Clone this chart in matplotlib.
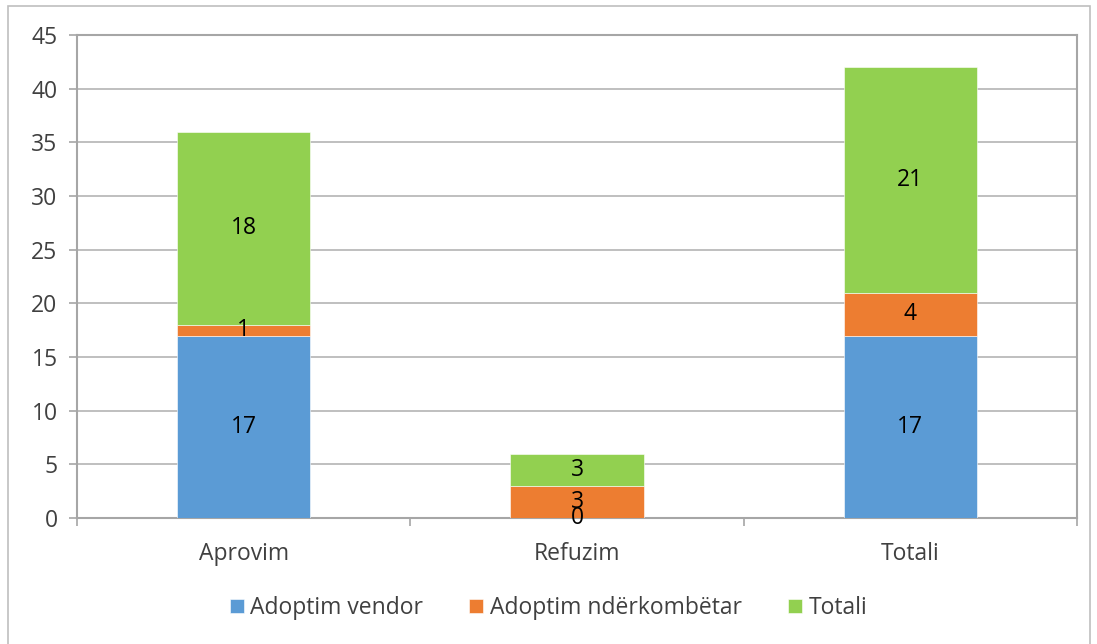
import matplotlib
matplotlib.use("Agg")
import matplotlib.pyplot as plt
from matplotlib.patches import Rectangle
import numpy as np

categories = ["Aprovim", "Refuzim", "Totali"]
vendor = [17, 0, 17]
nderkombetar = [1, 3, 4]
totali = [18, 3, 21]
series_names = ["Adoptim vendor", "Adoptim ndërkombëtar", "Totali"]
colors = ["#5B9BD5", "#ED7D31", "#92D050"]
y_ticks = [0, 5, 10, 15, 20, 25, 30, 35, 40, 45]

plt.rcParams["font.family"] = ["Open Sans", "DejaVu Sans"]
fs = 16.5

fig = plt.figure(figsize=(10.97, 6.44), dpi=100)
ax = fig.add_axes([77 / 1097, 126 / 644, 1000 / 1097, 483 / 644])

x = np.arange(len(categories))
bottom = np.zeros(len(categories))
for vals, name, col in zip([vendor, nderkombetar, totali], series_names, colors):
    vals = np.array(vals, dtype=float)
    ax.bar(x, vals, width=0.4, bottom=bottom, color=col, label=name,
           edgecolor="white", linewidth=0.4, zorder=3)
    for xi, b, v in zip(x, bottom, vals):
        ax.text(xi, b + v / 2, f"{int(v)}", ha="center", va="center",
                fontsize=fs, color="black", zorder=4)
    bottom += vals

ax.set_xlim(-0.5, len(categories) - 0.5)
ax.set_ylim(0, 45)
ax.set_yticks(y_ticks)
ax.set_xticks(x)
ax.set_xticklabels(categories)
ax.set_xticks(np.arange(-0.5, len(categories)), minor=True)
ax.tick_params(axis="x", which="major", length=0, pad=17, labelsize=fs, labelcolor="#404040")
ax.tick_params(axis="x", which="minor", length=6, color="#A6A6A6", width=1.2)
ax.tick_params(axis="y", length=6, color="#A6A6A6", width=1.2, pad=8, labelsize=fs, labelcolor="#404040")
ax.yaxis.grid(True, color="#B4B4B4", linewidth=1.2, zorder=0)
ax.set_axisbelow(True)
for s in ax.spines.values():
    s.set_color("#A6A6A6")
    s.set_linewidth(1.5)

fig.legend(loc="center", bbox_to_anchor=(0.5, 1 - 608 / 644), ncol=3, frameon=False,
           fontsize=fs, handlelength=0.6, handleheight=0.6, columnspacing=2.0,
           handletextpad=0.3, labelcolor="#404040")

fig.patches.append(Rectangle((8 / 1097, -0.05), 1082 / 1097, 1.05 - 6 / 644, transform=fig.transFigure,
                             fill=False, edgecolor="#BFBFBF", linewidth=1.2))

fig.savefig("out.png", dpi=100)
